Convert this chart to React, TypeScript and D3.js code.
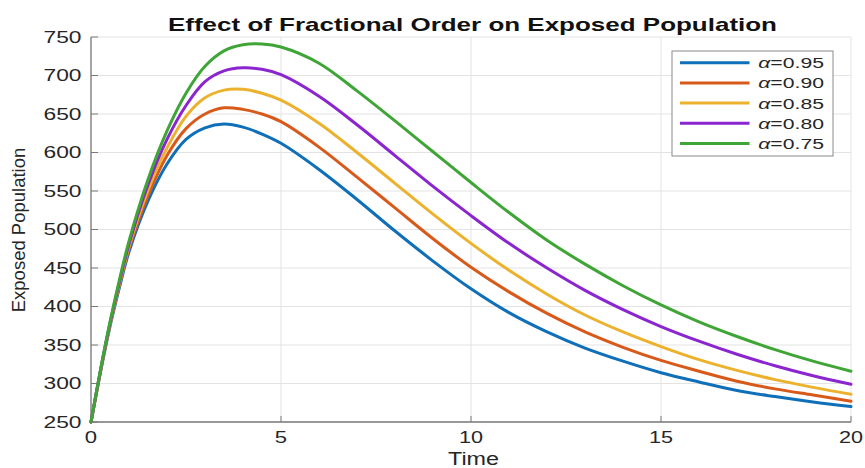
import React from "react";
import * as d3 from "d3";

// ---- data ----
const times = [0, 0.25, 0.5, 0.75, 1, 1.5, 2, 2.5, 3, 3.5, 4, 4.5, 5, 6, 7, 8, 9, 10, 11, 12, 13, 14, 15, 16, 17, 18, 19, 20];
const exposedA095 = [250, 315, 374, 425, 471, 537, 585, 617, 632, 637, 633, 624, 612, 578, 539, 498, 459, 423, 392, 367, 346, 329, 314, 302, 291, 283, 276, 270];
const exposedA090 = [250, 316, 376, 428, 475, 544, 596, 631, 650, 658, 656, 650, 640, 607, 568, 528, 488, 451, 419, 391, 367, 347, 330, 316, 303, 293, 285, 277];
const exposedA085 = [250, 316, 377, 430, 478, 551, 606, 647, 671, 681, 682, 677, 668, 638, 600, 560, 520, 482, 447, 416, 389, 367, 348, 331, 317, 305, 295, 286];
const exposedA080 = [250, 317, 378, 432, 481, 558, 617, 661, 692, 706, 710, 708, 701, 673, 636, 596, 556, 518, 482, 450, 421, 396, 374, 355, 338, 323, 310, 299];
const exposedA075 = [250, 318, 380, 435, 485, 565, 628, 677, 712, 732, 740, 741, 737, 716, 680, 641, 601, 561, 522, 486, 455, 427, 402, 380, 361, 344, 329, 316];
const seriesValues = [exposedA095, exposedA090, exposedA085, exposedA080, exposedA075];
const seriesLabels = ["0.95", "0.90", "0.85", "0.80", "0.75"];
const seriesColors = ["#0F6FB8", "#D85A1A", "#ECB22E", "#8A25CF", "#3FA536"];
const xTicks = [0, 5, 10, 15, 20];
const yTicks = [250, 300, 350, 400, 450, 500, 550, 600, 650, 700, 750];

const W = 865;
const H = 468;
const FONT = "'Liberation Sans', Arial, Helvetica, sans-serif";

export default function App() {
  const x = d3.scaleLinear().domain([0, 20]).range([91, 851]);
  const y = d3.scaleLinear().domain([250, 750]).range([422, 37]);
  const line = d3
    .line<number>()
    .x((_, i) => x(times[i]))
    .y((d) => y(d))
    .curve(d3.curveCatmullRom.alpha(0.5));

  const legendX = 672;
  const legendY = 51;
  const legendW = 161;
  const legendH = 105;

  return (
    <svg
      width={W}
      height={H}
      viewBox={`0 0 ${W} ${H}`}
      style={{ position: "absolute", left: 0, top: 0, background: "#fff" }}
      fontFamily={FONT}
    >
      <rect x={0} y={0} width={W} height={H} fill="#fff" />
      {/* grid */}
      {yTicks.map((t) => (
        <line key={"gy" + t} x1={x(0)} x2={x(20)} y1={y(t)} y2={y(t)} stroke="#e3e3e3" strokeWidth={1} />
      ))}
      {xTicks.map((t) => (
        <line key={"gx" + t} x1={x(t)} x2={x(t)} y1={y(250)} y2={y(750)} stroke="#e3e3e3" strokeWidth={1} />
      ))}
      {/* axes */}
      <line x1={x(0)} x2={x(0)} y1={y(250)} y2={y(750)} stroke="#7a7a7a" strokeWidth={1.3} />
      <line x1={x(0)} x2={x(20)} y1={y(250)} y2={y(250)} stroke="#7a7a7a" strokeWidth={1.3} />
      {yTicks.map((t) => (
        <line key={"ty" + t} x1={x(0)} x2={x(0) + 7} y1={y(t)} y2={y(t)} stroke="#7a7a7a" strokeWidth={1} />
      ))}
      {xTicks.map((t) => (
        <line key={"tx" + t} x1={x(t)} x2={x(t)} y1={y(250)} y2={y(250) - 6} stroke="#7a7a7a" strokeWidth={1} />
      ))}
      {/* tick labels */}
      {yTicks.map((t) => {
        const w = 38;
        return (
          <text
            key={"ly" + t}
            x={81.5 - w}
            y={y(t) + 5.8}
            fontSize={16}
            fill="#262626"
            textLength={w}
            lengthAdjust="spacingAndGlyphs"
          >
            {t}
          </text>
        );
      })}
      {xTicks.map((t) => {
        const s = String(t);
        const w = s.length === 1 ? 12.3 : 24;
        return (
          <text
            key={"lx" + t}
            x={x(t) - w / 2}
            y={443}
            fontSize={16}
            fill="#262626"
            textLength={w}
            lengthAdjust="spacingAndGlyphs"
          >
            {s}
          </text>
        );
      })}
      {/* series */}
      {seriesValues.map((vals, i) => (
        <path
          key={"s" + i}
          d={line(vals) || ""}
          fill="none"
          stroke={seriesColors[i]}
          strokeWidth={3}
          strokeLinejoin="round"
          strokeLinecap="round"
        />
      ))}
      {/* title */}
      <text
        x={168}
        y={31}
        fontSize={19}
        fontWeight="bold"
        fill="#111"
        textLength={609}
        lengthAdjust="spacingAndGlyphs"
      >
        Effect of Fractional Order on Exposed Population
      </text>
      {/* axis labels */}
      <text x={448} y={464.5} fontSize={18} fill="#262626" textLength={51} lengthAdjust="spacingAndGlyphs">
        Time
      </text>
      <text
        transform={`translate(25, 230) rotate(-90)`}
        textAnchor="middle"
        fontSize={18.5}
        fill="#262626"
      >
        Exposed Population
      </text>
      {/* legend */}
      <rect x={legendX} y={legendY} width={legendW} height={legendH} fill="#fff" stroke="#8a8a8a" strokeWidth={1} />
      {seriesLabels.map((lab, i) => {
        const cy = 62.7 + i * 20.2;
        return (
          <g key={"lg" + i}>
            <line x1={680} x2={749.5} y1={cy} y2={cy} stroke={seriesColors[i]} strokeWidth={3} />
            <text
              x={758.3}
              y={cy + 5.5}
              fontSize={15}
              fill="#262626"
              textLength={65.7}
              lengthAdjust="spacingAndGlyphs"
            >
              <tspan fontStyle="italic">α</tspan>
              {"=" + lab}
            </text>
          </g>
        );
      })}
    </svg>
  );
}
